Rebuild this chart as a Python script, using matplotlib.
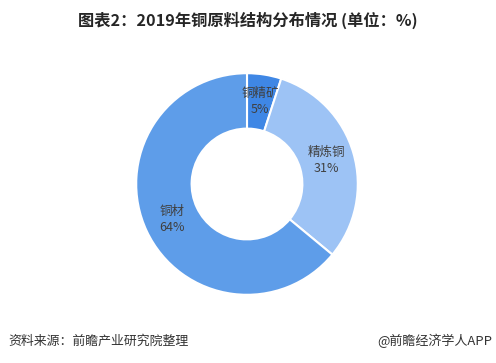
import numpy as np
import matplotlib.pyplot as plt

plt.rcParams['font.family'] = ['Noto Sans CJK SC', 'DejaVu Sans']

# 2019年铜原料结构分布 (单位：%)
categories = ['铜精矿', '精炼铜', '铜材']
shares = [5, 31, 64]
colors = ['#3F87E5', '#9DC3F5', '#5E9DE9']

fig = plt.figure(figsize=(4.96, 3.63), dpi=100)
cx, cy, r = 247, 184, 113
W, H = 496, 363
ax = fig.add_axes([(cx - r) / W, (H - cy - r) / H, 2 * r / W, 2 * r / H])

wedges, texts = ax.pie(shares, colors=colors, startangle=90, counterclock=False,
                       radius=1, wedgeprops=dict(width=0.5, edgecolor='white', linewidth=1.5))
for w, name, v in zip(wedges, categories, shares):
    ang = np.deg2rad((w.theta1 + w.theta2) / 2)
    ax.text(0.75 * np.cos(ang), 0.75 * np.sin(ang), f'{name}\n{v}%', ha='center', va='center',
            fontsize=9, color='#404040', linespacing=1.3)
ax.set_xlim(-1.02, 1.02)
ax.set_ylim(-1.02, 1.02)
ax.set_aspect('equal')
ax.axis('off')

fig.text(0.5, 1 - 20 / H, '图表2：2019年铜原料结构分布情况 (单位：%)', ha='center', va='center',
         fontsize=11.7, fontweight='bold', color='#262626')
fig.text(8 / W, 1 - 341 / H, '资料来源：前瞻产业研究院整理', ha='left', va='center',
         fontsize=9.3, color='#333333')
fig.text(492 / W, 1 - 341 / H, '@前瞻经济学人APP', ha='right', va='center',
         fontsize=9.4, color='#333333')

fig.savefig('out.png', dpi=100)
